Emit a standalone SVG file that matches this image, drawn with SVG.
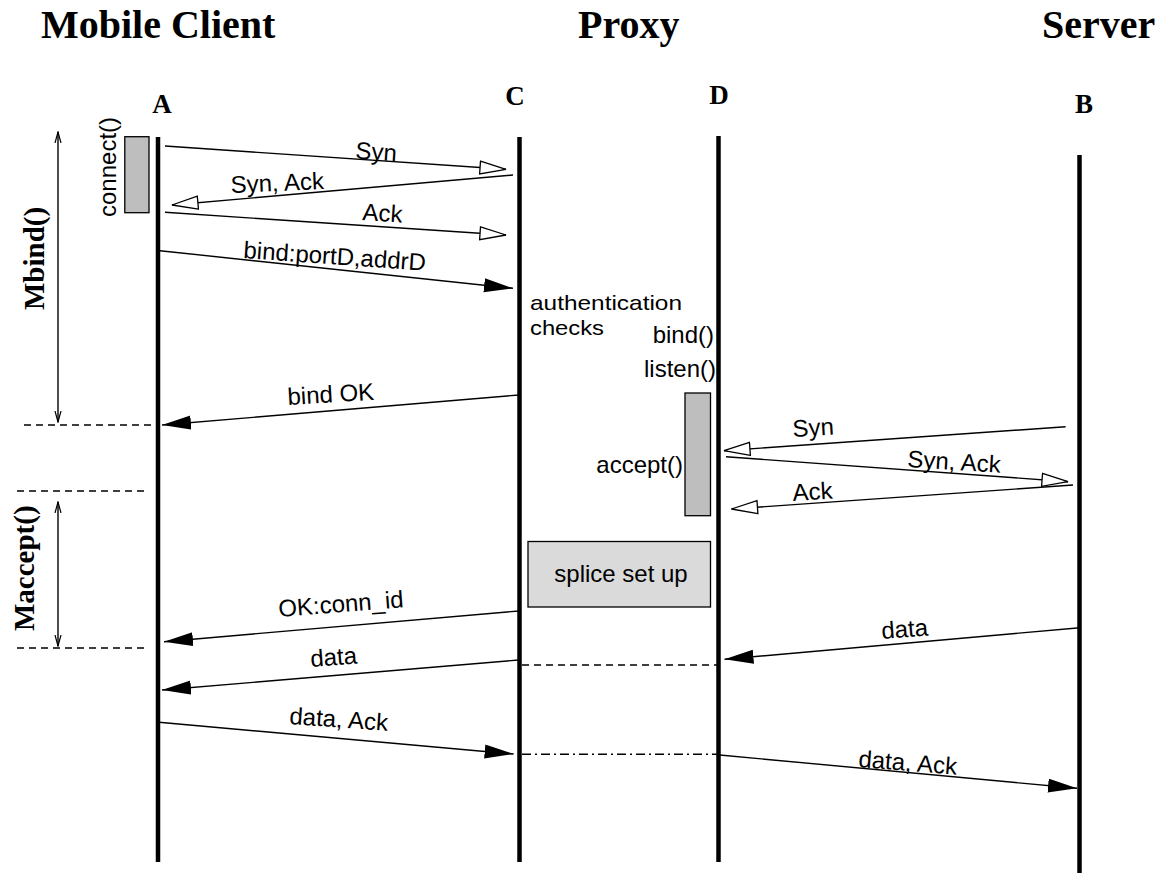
<svg xmlns="http://www.w3.org/2000/svg" width="1155" height="876" viewBox="0 0 1155 876">
<style>
.hdr{font-family:"Liberation Serif","Times New Roman",serif;font-weight:bold;font-size:40px;fill:#000}
.ltr{font-family:"Liberation Serif","Times New Roman",serif;font-weight:bold;font-size:27px;fill:#000}
.side{font-family:"Liberation Serif","Times New Roman",serif;font-weight:bold;font-size:29px;fill:#000}
.lbl{font-family:"Liberation Sans",Arial,sans-serif;font-size:24px;fill:#000}
.note{font-family:"Liberation Sans",Arial,sans-serif;font-size:21px;fill:#000}
.life{stroke:#000;stroke-width:4.5;fill:none}
.msg{stroke:#000;stroke-width:1.4;fill:none}
.dash{stroke:#000;stroke-width:1.5;stroke-dasharray:7,5;fill:none}
.dashdot{stroke:#000;stroke-width:1.5;stroke-dasharray:9,4,2,4;fill:none}
.act{fill:#bebebe;stroke:#000;stroke-width:1.3}
.box{fill:#dadada;stroke:#000;stroke-width:1.3}
.open{marker-end:url(#openHead)}
.fill{marker-end:url(#fillHead)}
.dbl{marker-start:url(#tickStart);marker-end:url(#tickEnd)}
</style>
<defs>
<marker id="openHead" markerUnits="userSpaceOnUse" markerWidth="30" markerHeight="18" refX="27" refY="8" orient="auto">
<path d="M1,1.5 L27,8 L1,14.5 Z" fill="#fff" stroke="#000" stroke-width="1.3"/>
</marker>
<marker id="fillHead" markerUnits="userSpaceOnUse" markerWidth="31" markerHeight="16" refX="29" refY="7" orient="auto">
<path d="M0,0 L29,7 L0,14 Z" fill="#000"/>
</marker>
<marker id="tickEnd" markerUnits="userSpaceOnUse" markerWidth="12" markerHeight="8" refX="11" refY="4" orient="auto">
<path d="M0,1 L11,4 L0,7" fill="none" stroke="#000" stroke-width="1.2"/>
</marker>
<marker id="tickStart" markerUnits="userSpaceOnUse" markerWidth="12" markerHeight="8" refX="1" refY="4" orient="auto">
<path d="M12,1 L1,4 L12,7" fill="none" stroke="#000" stroke-width="1.2"/>
</marker>
</defs>
<rect width="1155" height="876" fill="#fff"/>

<text class="hdr" x="41" y="38">Mobile Client</text>
<text class="hdr" x="578" y="38">Proxy</text>
<text class="hdr" x="1042" y="38">Server</text>

<g id="lifeline-A">
<text class="ltr" x="162" y="113" text-anchor="middle">A</text>
<line class="life" x1="158" y1="137" x2="158" y2="862"/>
</g>
<g id="lifeline-C">
<text class="ltr" x="515" y="105" text-anchor="middle">C</text>
<line class="life" x1="519.5" y1="137" x2="519.5" y2="862"/>
</g>
<g id="lifeline-D">
<text class="ltr" x="719" y="104" text-anchor="middle">D</text>
<line class="life" x1="718.5" y1="136" x2="718.5" y2="862"/>
</g>
<g id="lifeline-B">
<text class="ltr" x="1084" y="113" text-anchor="middle">B</text>
<line class="life" x1="1079.5" y1="155" x2="1079.5" y2="873"/>
</g>

<g id="connect-activation">
<rect class="act" x="124.8" y="136.7" width="24.2" height="76"/>
<text class="lbl" transform="translate(116,217) rotate(-90)">connect()</text>
</g>
<g id="accept-activation">
<rect class="act" x="685" y="393" width="25.5" height="122.7"/>
<text class="lbl" x="683" y="473" text-anchor="end">accept()</text>
</g>
<g id="splice-setup">
<rect class="box" x="528" y="541.5" width="182.5" height="65.5"/>
<text class="lbl" x="621" y="582" text-anchor="middle" fill="#222">splice set up</text>
</g>
<g id="proxy-notes">
<text class="note" x="530" y="310" textLength="152" lengthAdjust="spacingAndGlyphs">authentication</text>
<text class="note" x="530" y="335" textLength="74" lengthAdjust="spacingAndGlyphs">checks</text>
<text class="lbl" x="714" y="343" text-anchor="end">bind()</text>
<text class="lbl" x="716" y="377" text-anchor="end">listen()</text>
</g>
<g id="mbind-span">
<text class="side" transform="translate(44,310) rotate(-90)">Mbind()</text>
</g>
<g id="maccept-span">
<text class="side" transform="translate(34,631) rotate(-90)">Maccept()</text>
</g>

<g id="connectors">
<line class="dbl msg" x1="58" y1="132" x2="58" y2="422"/>
<line class="dash" x1="24" y1="425" x2="157" y2="425"/>
<line class="dash" x1="17" y1="491" x2="149" y2="491"/>
<line class="dbl msg" x1="58" y1="502" x2="58" y2="646"/>
<line class="dash" x1="17" y1="648" x2="149" y2="648"/>

<line class="msg open" x1="165" y1="146" x2="506" y2="169.3"/>
<text class="lbl" transform="translate(355,158.5) rotate(3.9)">Syn</text>
<line class="msg open" x1="513" y1="175" x2="172" y2="205"/>
<text class="lbl" transform="translate(231,193) rotate(-2.5)">Syn, Ack</text>
<line class="msg open" x1="165" y1="212.3" x2="506" y2="235"/>
<text class="lbl" transform="translate(362,220) rotate(3.8)">Ack</text>
<line class="msg fill" x1="160" y1="250.7" x2="513" y2="288.3"/>
<text class="lbl" transform="translate(243,258) rotate(4)">bind:portD,addrD</text>

<line class="msg fill" x1="518.6" y1="395" x2="162" y2="425"/>
<text class="lbl" transform="translate(288,405) rotate(-3.5)">bind OK</text>

<line class="msg open" x1="1065.6" y1="426.7" x2="724" y2="450.7"/>
<text class="lbl" transform="translate(793,437) rotate(-3.5)">Syn</text>
<line class="msg open" x1="726" y1="456.7" x2="1068" y2="481.7"/>
<text class="lbl" transform="translate(907,467) rotate(3.5)">Syn, Ack</text>
<line class="msg open" x1="1073" y1="485" x2="731.5" y2="509"/>
<text class="lbl" transform="translate(793,501) rotate(-3.5)">Ack</text>

<line class="msg fill" x1="518.6" y1="611" x2="164" y2="641.7"/>
<text class="lbl" transform="translate(279,617) rotate(-4.5)">OK:conn_id</text>
<line class="msg fill" x1="1080" y1="627.7" x2="724.5" y2="659.3"/>
<text class="lbl" transform="translate(882,639) rotate(-4.5)">data</text>
<line class="msg fill" x1="518.5" y1="660" x2="162" y2="690"/>
<text class="lbl" transform="translate(311,667) rotate(-4.5)">data</text>
<line class="dash" x1="522" y1="665" x2="720" y2="665"/>

<line class="msg fill" x1="159" y1="722.3" x2="513.6" y2="754"/>
<text class="lbl" transform="translate(289,724) rotate(4)">data, Ack</text>
<line class="dashdot" x1="522" y1="754.3" x2="718" y2="754.3"/>
<line class="msg fill" x1="719.7" y1="755" x2="1077" y2="788.3"/>
<text class="lbl" transform="translate(858,767) rotate(4.5)">data, Ack</text>
</g>
</svg>
